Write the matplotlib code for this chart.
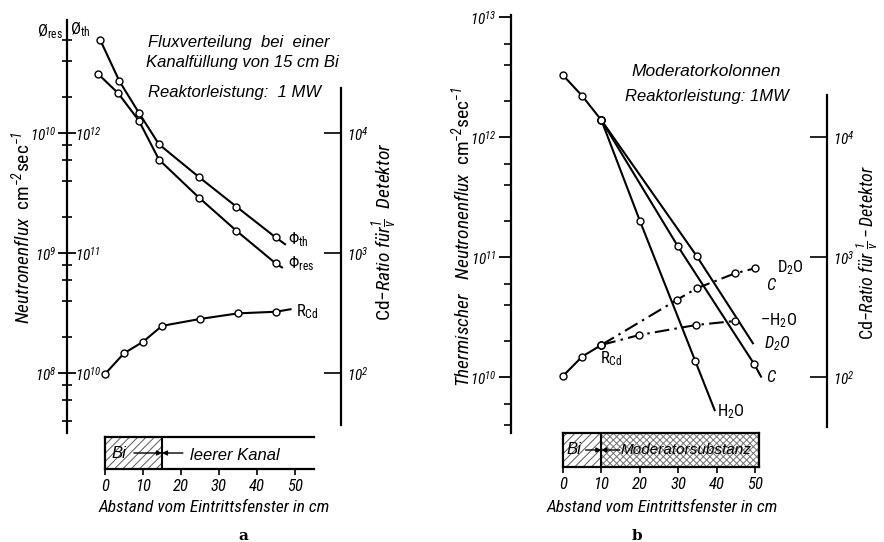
import math
import matplotlib
matplotlib.use("Agg")
import matplotlib.pyplot as plt
from matplotlib import font_manager
from matplotlib.patches import Rectangle
from matplotlib.ticker import NullFormatter
from matplotlib.transforms import blended_transform_factory, offset_copy

# ---------------------------------------------------------------------------
# Panel a: flux distribution with 15 cm Bi in the channel, reactor power 1 MW
a_bi_length = 15          # cm of Bi at the channel entrance
a_channel_length = 55     # cm, drawn length of the channel

a_th_x = [-1.3, 3.8, 9.0, 14.2, 24.7, 34.6, 44.9]
a_th_flux = [6.0e12, 2.7e12, 1.46e12, 8.05e11, 4.3e11, 2.43e11, 1.35e11]
a_th_end = (47.6, 1.17e11)

a_res_x = [-1.8, 3.5, 8.9, 14.2, 24.7, 34.6, 44.9]
a_res_flux = [3.1e10, 2.14e10, 1.27e10, 6.0e9, 2.9e9, 1.53e9, 8.2e8]
a_res_end = (46.8, 7.5e8)

a_cd_x = [0, 5, 10, 15, 25, 35, 45]
a_cd_ratio = [98, 146, 182, 247, 282, 314, 324]
a_cd_end = (49.1, 341)

# Panel b: moderator columns, reactor power 1 MW
b_bi_length = 10
b_column_length = 51

b_common_x = [0, 5, 10]
b_common_flux = [3.27e12, 2.20e12, 1.38e12]
b_h2o_x = [20.0, 34.4]
b_h2o_flux = [2.01e11, 1.37e10]
b_h2o_end = (39.6, 5.2e9)
b_c_x = [29.9, 49.8]
b_c_flux = [1.23e11, 1.28e10]
b_c_end = (51.7, 9.9e9)
b_d2o_x = [34.8]
b_d2o_flux = [1.02e11]
b_d2o_end = (49.6, 1.88e10)

b_cd_common_x = [0, 5, 10]
b_cd_common = [102, 148, 185]
b_cd_d2o_x = [29.6, 34.8, 44.8, 50.0]
b_cd_d2o = [438, 548, 731, 805]
b_cd_h2o_x = [19.9, 34.6, 44.8]
b_cd_h2o = [224, 271, 293]

x_ticks = [0, 10, 20, 30, 40, 50]

# ---------------------------------------------------------------------------
W, H = 884, 542

_installed = {f.name for f in font_manager.fontManager.ttflist}
NARROW = next((n for n in ("Liberation Sans Narrow", "Roboto Condensed")
               if n in _installed), "DejaVu Sans")
WIDE = "Liberation Sans" if "Liberation Sans" in _installed else "DejaVu Sans"

plt.rcParams["font.family"] = [NARROW, "DejaVu Sans"]
plt.rcParams["mathtext.fontset"] = "custom"
plt.rcParams["mathtext.rm"] = NARROW + ":italic"
plt.rcParams["mathtext.it"] = NARROW + ":italic"
plt.rcParams["mathtext.sf"] = NARROW
plt.rcParams["mathtext.bf"] = NARROW + ":bold"
plt.rcParams["mathtext.default"] = "it"
plt.rcParams["hatch.linewidth"] = 0.7

fig = plt.figure(figsize=(W / 100, H / 100), dpi=100)
fig.patch.set_facecolor("white")

LW = 1.5
SPINE_LW = 1.6
FS = 12          # annotation text
TFS = 11         # tick labels
YLAB = 14        # rotated axis titles
MARK = dict(marker="o", ms=5, mfc="white", mec="black", mew=1.0, ls="none", zorder=5)
DASHDOT = (0, (7, 2.5, 1.2, 2.5))


def px_axes(x0, y0, x1, y1):
    return fig.add_axes([x0 / W, 1 - y1 / H, (x1 - x0) / W, (y1 - y0) / H])


def ftext(x, y, s, **kw):
    kw.setdefault("fontsize", FS)
    kw.setdefault("style", "italic")
    return fig.text(x / W, 1 - y / H, s, **kw)


def note(x, y, s, size=FS, **kw):
    """Annotation text set in the wider italic face."""
    return ftext(x, y, s, family=[WIDE, "DejaVu Sans"], fontsize=size,
                 ha=kw.pop("ha", "center"), va=kw.pop("va", "center"), **kw)


def log_lim(ref_val, ref_px, top_px, bot_px, dec_px=120.0):
    return (ref_val * 10 ** ((ref_px - bot_px) / dec_px),
            ref_val * 10 ** ((ref_px - top_px) / dec_px))


def curve(ax, xs, ys, end=None, ls="-"):
    lx, ly = list(xs), list(ys)
    if end is not None:
        lx.append(end[0])
        ly.append(end[1])
    ax.plot(lx, ly, color="black", lw=LW, ls=ls, solid_capstyle="butt")
    ax.plot(xs, ys, **MARK)


def pow_label(v):
    return r"$10^{%d}$" % round(math.log10(v))


def arrow(ax, x_from, x_to):
    ax.annotate("", xy=(x_to, 0.5), xytext=(x_from, 0.5),
                arrowprops=dict(arrowstyle="-|>", color="black", lw=1.0,
                                mutation_scale=7, shrinkA=0, shrinkB=0))


def style_bar(ax, length):
    ax.set_xlim(0, length)
    ax.set_ylim(0, 1)
    ax.patch.set_visible(False)
    for s in ax.spines.values():
        s.set_linewidth(SPINE_LW)
    ax.set_yticks([])
    ax.set_xticks(x_ticks, [str(t) for t in x_ticks])
    ax.tick_params(axis="x", direction="out", length=4, width=1.2, pad=3,
                   labelsize=TFS + 1)
    for lbl in ax.get_xticklabels():
        lbl.set_fontstyle("italic")


# ========================== panel a ========================================
A_L, A_R, A_T, A_B = 67, 341, 20, 433
A_X0, A_XS = 105, 3.8
A_REF = 133

ax_a = px_axes(A_L, A_T, A_R, A_B)
ax_a.set_yscale("log")
ax_a.set_xlim((A_L - A_X0) / A_XS, (A_R - A_X0) / A_XS)
res_lim = log_lim(1e10, A_REF, A_T, A_B)
ax_a.set_ylim(res_lim)
ax_a.patch.set_visible(False)
for s in ("top", "right", "bottom"):
    ax_a.spines[s].set_visible(False)
ax_a.spines["left"].set_linewidth(SPINE_LW)
ax_a.set_xticks([])
ax_a.set_yticks([1e8, 1e9, 1e10], [pow_label(v) for v in (1e8, 1e9, 1e10)])
a_minor = [m * 10 ** e for e in (7, 8, 9, 10) for m in (2, 4, 6, 8)]
a_minor = [v for v in a_minor if res_lim[0] < v <= 6.5e10]
ax_a.set_yticks(a_minor, minor=True)
ax_a.yaxis.set_minor_formatter(NullFormatter())
ax_a.tick_params(axis="y", which="major", direction="inout", length=13, width=1.3,
                 pad=1, labelsize=TFS)
ax_a.tick_params(axis="y", which="minor", direction="inout", length=7, width=1.2)

ax_a_th = ax_a.twinx()
ax_a_th.set_yscale("log")
ax_a_th.set_ylim(res_lim[0] * 100, res_lim[1] * 100)
ax_a_th.axis("off")
th_trans = offset_copy(blended_transform_factory(ax_a_th.transAxes, ax_a_th.transData),
                       fig=fig, x=8, y=0, units="dots")
for v in (1e10, 1e11, 1e12):
    ax_a_th.text(0, v, pow_label(v), transform=th_trans, ha="left",
                 va="center_baseline", fontsize=TFS)

ax_a_cd = ax_a.twinx()
ax_a_cd.set_yscale("log")
ax_a_cd.set_ylim(res_lim[0] * 1e-6, res_lim[1] * 1e-6)
for s in ("top", "left", "bottom"):
    ax_a_cd.spines[s].set_visible(False)
ax_a_cd.spines["right"].set_linewidth(SPINE_LW)
ax_a_cd.spines["right"].set_bounds(10 ** 1.567, 10 ** 4.375)
ax_a_cd.set_yticks([1e2, 1e3, 1e4], [pow_label(v) for v in (1e2, 1e3, 1e4)])
ax_a_cd.set_yticks([], minor=True)
ax_a_cd.tick_params(axis="y", which="major", direction="in", length=12, width=1.2,
                    pad=4, labelsize=TFS)

curve(ax_a_th, a_th_x, a_th_flux, a_th_end)
curve(ax_a, a_res_x, a_res_flux, a_res_end)
curve(ax_a_cd, a_cd_x, a_cd_ratio, a_cd_end)

# channel sketch below panel a: Bi filling followed by the empty channel
bar_a = px_axes(A_X0, 437, A_X0 + a_channel_length * A_XS, 469)
style_bar(bar_a, a_channel_length)
bar_a.spines["right"].set_visible(False)
bar_a.add_patch(Rectangle((0, 0), a_bi_length, 1, fill=False, hatch="////",
                          edgecolor="0.35", lw=0))
bar_a.axvline(a_bi_length, color="black", lw=LW)
arrow(bar_a, 7.6, a_bi_length)
arrow(bar_a, 20.5, a_bi_length)
note(119, 454, "Bi")
note(190, 455, "leerer Kanal", ha="left")

note(239, 43, "Fluxverteilung  bei  einer")
note(242, 62, "Kanalfüllung von %d cm Bi" % a_bi_length)
note(235, 92, "Reaktorleistung:  1 MW")
ftext(63, 32, r"Ø$_{\mathsf{res}}$", ha="right", va="center", style="normal")
ftext(70, 30, r"Ø$_{\mathsf{th}}$", ha="left", va="center", style="normal")
ftext(288, 240, r"Φ$_{\mathsf{th}}$", ha="left", va="center", style="normal")
ftext(288, 264, r"Φ$_{\mathsf{res}}$", ha="left", va="center", style="normal")
ftext(296, 312, r"R$_{\mathsf{Cd}}$", ha="left", va="center", style="normal")
ftext(21, 228, r"$Neutronenflux$  cm$^{-2}$sec$^{-1}$", ha="center",
      va="center", rotation=90, style="normal", fontsize=YLAB)
ftext(384, 232, r"Cd$-Ratio\ f\ddot{u}r\frac{1}{v}\ \ Detektor$", ha="center",
      va="center", rotation=90, style="normal", fontsize=YLAB)
ftext(214, 507, "Abstand vom Eintrittsfenster in cm", ha="center", va="center",
      fontsize=12.5)
ftext(243, 536, "a", ha="center", va="center", style="normal", weight="bold",
      family="DejaVu Serif", fontsize=11)

# ========================== panel b ========================================
B_L, B_R, B_T, B_B = 511, 827, 15, 433
B_X0, B_XS = 563, 3.84
B_REF = 137

ax_b = px_axes(B_L, B_T, B_R, B_B)
ax_b.set_yscale("log")
ax_b.set_xlim((B_L - B_X0) / B_XS, (B_R - B_X0) / B_XS)
flux_lim = log_lim(1e12, B_REF, B_T, B_B)
ax_b.set_ylim(flux_lim)
ax_b.patch.set_visible(False)
for s in ("top", "right", "bottom"):
    ax_b.spines[s].set_visible(False)
ax_b.spines["left"].set_linewidth(SPINE_LW)
ax_b.set_xticks([])
b_major = [1e10, 1e11, 1e12, 1e13]
ax_b.set_yticks(b_major, [pow_label(v) for v in b_major])
b_minor = [m * 10 ** e for e in (9, 10, 11, 12) for m in (2, 4, 6)]
b_minor = [v for v in b_minor if flux_lim[0] < v < flux_lim[1]]
ax_b.set_yticks(b_minor, minor=True)
ax_b.yaxis.set_minor_formatter(NullFormatter())
ax_b.tick_params(axis="y", which="major", direction="out", length=9, width=1.3,
                 pad=1, labelsize=TFS)
ax_b.tick_params(axis="y", which="minor", direction="out", length=5, width=1.2)

ax_b_cd = ax_b.twinx()
ax_b_cd.set_yscale("log")
ax_b_cd.set_ylim(log_lim(1e4, B_REF, B_T, B_B))
for s in ("top", "left", "bottom"):
    ax_b_cd.spines[s].set_visible(False)
ax_b_cd.spines["right"].set_linewidth(SPINE_LW)
ax_b_cd.spines["right"].set_bounds(10 ** 4.35, 10 ** 1.58)
ax_b_cd.set_yticks([1e2, 1e3, 1e4], [pow_label(v) for v in (1e2, 1e3, 1e4)])
ax_b_cd.set_yticks([], minor=True)
ax_b_cd.tick_params(axis="y", which="major", direction="in", length=12, width=1.2,
                    pad=4, labelsize=TFS)

curve(ax_b, b_common_x, b_common_flux)
curve(ax_b, [b_common_x[-1]] + b_h2o_x, [b_common_flux[-1]] + b_h2o_flux, b_h2o_end)
curve(ax_b, [b_common_x[-1]] + b_c_x, [b_common_flux[-1]] + b_c_flux, b_c_end)
curve(ax_b, [b_common_x[-1]] + b_d2o_x, [b_common_flux[-1]] + b_d2o_flux, b_d2o_end)

curve(ax_b_cd, b_cd_common_x, b_cd_common)
curve(ax_b_cd, [b_cd_common_x[-1]] + b_cd_d2o_x, [b_cd_common[-1]] + b_cd_d2o,
      ls=DASHDOT)
curve(ax_b_cd, [b_cd_common_x[-1]] + b_cd_h2o_x, [b_cd_common[-1]] + b_cd_h2o,
      ls=DASHDOT)

# column sketch below panel b: Bi followed by the moderator
bar_b = px_axes(B_X0, 433, B_X0 + b_column_length * B_XS, 467)
style_bar(bar_b, b_column_length)
bar_b.add_patch(Rectangle((0, 0), b_bi_length, 1, fill=False, hatch="////",
                          edgecolor="0.35", lw=0))
bar_b.add_patch(Rectangle((b_bi_length, 0), b_column_length - b_bi_length, 1,
                          fill=False, hatch="xxxxx", edgecolor="0.45", lw=0))
bar_b.axvline(b_bi_length, color="black", lw=LW)
arrow(bar_b, 5.9, b_bi_length)
arrow(bar_b, 14.8, b_bi_length)
note(574, 450, "Bi")
note(686, 450, "Moderatorsubstanz", size=11)

note(706, 72, "Moderatorkolonnen", size=12.5)
note(707, 97, "Reaktorleistung: 1MW")
ftext(777, 268, r"D$_{\mathsf{2}}$O", ha="left", va="center", style="normal")
ftext(766, 286, "C", ha="left", va="center")
ftext(760, 321, r"–H$_{\mathsf{2}}$O", ha="left", va="center", style="normal")
ftext(764, 344, r"D$_{2}$O", ha="left", va="center")
ftext(766, 378, "C", ha="left", va="center")
ftext(717, 412, r"H$_{\mathsf{2}}$O", ha="left", va="center", style="normal")
ftext(600, 359, r"R$_{\mathsf{Cd}}$", ha="left", va="center", style="normal")
ftext(461, 237, r"$Thermischer\ \ \ Neutronenflux$  cm$^{-2}$sec$^{-1}$",
      ha="center", va="center", rotation=90, style="normal", fontsize=YLAB)
ftext(867, 253, r"Cd$-Ratio\ f\ddot{u}r\ \frac{1}{v}-Detektor$", ha="center",
      va="center", rotation=90, style="normal", fontsize=13)
ftext(662, 507, "Abstand vom Eintrittsfenster in cm", ha="center", va="center",
      fontsize=12.5)
ftext(637, 536, "b", ha="center", va="center", style="normal", weight="bold",
      family="DejaVu Serif", fontsize=11)

fig.savefig("out.png", dpi=100, facecolor="white")
